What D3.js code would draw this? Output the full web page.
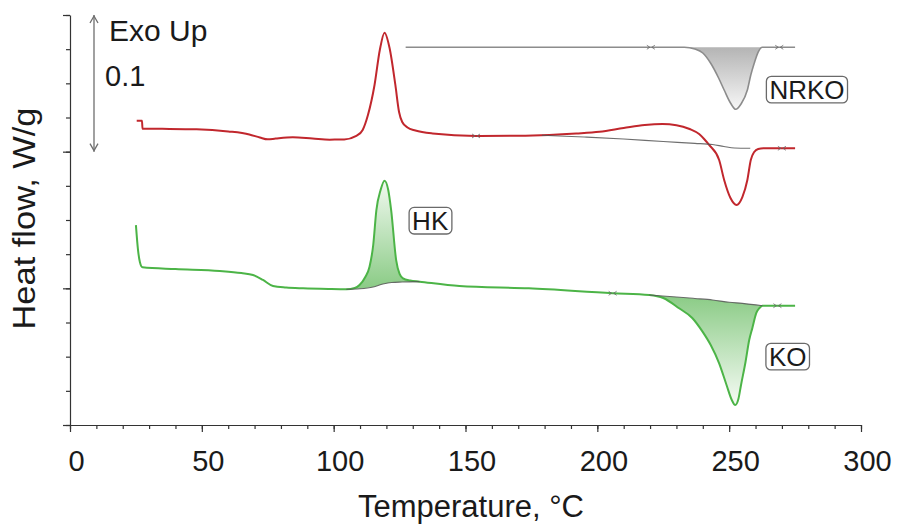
<!DOCTYPE html>
<html>
<head>
<meta charset="utf-8">
<script src="https://cdn.jsdelivr.net/npm/d3@7"></script>
<style>
  html, body { margin: 0; padding: 0; background: #fff; }
  svg { display: block; font-family: "Liberation Sans", Arial, Helvetica, sans-serif; }
</style>
</head>
<body>
<svg id="chart" width="897" height="526"></svg>
<script>
// ---- data: temperature (°C), heat flow (W/g, curves offset vertically) ----
const xMajorTicks = [0, 50, 100, 150, 200, 250, 300];
const xMinorTicks = d3.range(0, 301, 10);
const yMajorTicks = [0, 0.1, 0.2, 0.3];
const yMinorTicks = d3.range(0, 0.3001, 0.025);
const scaleBar = [0.2, 0.3];           // "0.1" W/g scale bar
const scaleBarLabel = "0.1";

// NRKO trace (grey)
const nrkoTrace = [
  [127.3, 0.2764], [200, 0.2764], [233, 0.2764], [237, 0.2751], [240, 0.2722],
  [243, 0.2647], [246, 0.2539], [248.1, 0.2451], [250.5, 0.2356], [252.5, 0.2310],
  [254.5, 0.2349], [256.9, 0.2451], [258.2, 0.2561], [259.5, 0.2647], [261, 0.2729],
  [262.6, 0.2764], [275, 0.2764]
];
const nrkoBaseline = [[233, 0.2764], [262.6, 0.2764]];
const nrkoMarks = [220.3, 269];

// red trace
const redTrace = [
  [25.3, 0.2227], [27.3, 0.2227], [27.5, 0.2168], [35, 0.2167], [48, 0.2164],
  [60, 0.2148], [68, 0.2126], [72, 0.2104], [75, 0.2090], [78, 0.2096],
  [84.5, 0.2105], [92, 0.2096], [98.5, 0.2088], [104, 0.2089], [108.6, 0.2115],
  [111, 0.2159], [113, 0.2268], [115.5, 0.2488], [117.5, 0.2744], [119.3, 0.2871],
  [121.2, 0.2759], [123.4, 0.2488], [124.8, 0.2290], [126, 0.2217], [128, 0.2177],
  [131, 0.2155], [137.5, 0.2133], [154, 0.2115], [170, 0.2116], [181.8, 0.2122],
  [192, 0.2133], [200.8, 0.2146], [210, 0.2173], [218, 0.2195], [224.7, 0.2202],
  [230, 0.2194], [235, 0.2166], [238.6, 0.2129], [240.5, 0.2093], [242.4, 0.2049],
  [246.2, 0.1939], [248.1, 0.1793], [250.5, 0.1661], [252.8, 0.1610], [255, 0.1668],
  [256.9, 0.1793], [258.2, 0.1939], [259.5, 0.1998], [261, 0.2020], [263, 0.2025],
  [275, 0.2025]
];
const redBaseline = [
  [179, 0.2120], [195, 0.2107], [210, 0.2093], [225, 0.2074], [237, 0.2061],
  [243.7, 0.2052], [248, 0.2038], [252, 0.2027], [258, 0.2025]
];
const redMarks = [154, 270];

// green trace (HK exotherm, KO endotherm)
const greenTrace = [
  [25, 0.1463], [25.8, 0.1280], [26.5, 0.1193], [27.5, 0.1154], [40, 0.1141],
  [56.8, 0.1127], [65, 0.1112], [69.4, 0.1098], [73.2, 0.1061], [77, 0.1017],
  [82, 0.1006], [88.4, 0.1000], [98, 0.0995], [104.8, 0.0993], [108, 0.1002],
  [109.8, 0.1024], [112, 0.1083], [113.6, 0.1158], [115, 0.1317], [116.2, 0.1573],
  [117.8, 0.1720], [119.3, 0.1788], [120.7, 0.1720], [121.8, 0.1573], [123.7, 0.1207],
  [125, 0.1105], [126.3, 0.1073], [129, 0.1057], [132.6, 0.1049], [147.7, 0.1017],
  [174, 0.1000], [205.8, 0.0964], [219.7, 0.0951], [225, 0.0929], [231, 0.0854],
  [236, 0.0783], [239.9, 0.0683], [243, 0.0585], [246.2, 0.0451], [249, 0.0293],
  [251, 0.0183], [252.3, 0.0146], [253.5, 0.0190], [254.5, 0.0293], [256.2, 0.0461],
  [257.6, 0.0622], [258.8, 0.0710], [260.3, 0.0820], [261.5, 0.0856], [262.6, 0.0873],
  [275, 0.0873]
];
const hkBaseline = [
  [104.8, 0.0993], [110, 0.0997], [115, 0.1010], [118.7, 0.1032], [122, 0.1043],
  [126, 0.1046], [132.6, 0.1049]
];
const koBaseline = [
  [219.7, 0.0951], [230, 0.0937], [237, 0.0926], [243.7, 0.0915], [250, 0.0898],
  [255, 0.0890], [262.6, 0.0873]
];
const greenMarks = [205.8, 268.3];

// boxed labels: text, temperature, heat flow
const peakLabels = [
  ["NRKO", 279.5, 0.2454],
  ["HK", 136.6, 0.1495],
  ["KO", 272.2, 0.0500]
];

// ---- layout ----
const svg = d3.select("#chart");
const x = d3.scaleLinear().domain([0, 300]).range([70, 861]);
const y = d3.scaleLinear().domain([0, 0.3]).range([425, 15]);

const colors = { red: "#c1272d", green: "#4cb447", grey: "#8c8c8c", base: "#555", axis: "#333" };

const defs = svg.append("defs");
function vGradient(id, yFrom, yTo, c0, c1) {
  const g = defs.append("linearGradient").attr("id", id)
    .attr("gradientUnits", "userSpaceOnUse")
    .attr("x1", 0).attr("x2", 0).attr("y1", y(yFrom)).attr("y2", y(yTo));
  g.append("stop").attr("offset", 0).attr("stop-color", c0);
  g.append("stop").attr("offset", 1).attr("stop-color", c1);
}
vGradient("gradNRKO", 0.2764, 0.2310, "#b4b4b4", "#f7f7f7");
vGradient("gradHK", 0.0995, 0.1788, "#8acb85", "#f1f9f0");
vGradient("gradKO", 0.0951, 0.0146, "#8acb85", "#f6fbf5");

const line = d3.line().x(d => x(d[0])).y(d => y(d[1])).curve(d3.curveMonotoneX);
const straight = d3.line().x(d => x(d[0])).y(d => y(d[1])).curve(d3.curveLinear);

// shaded area between a trace and its baseline
function peakArea(trace, base) {
  const t0 = base[0][0], t1 = base[base.length - 1][0];
  const seg = trace.filter(d => d[0] >= t0 - 1e-6 && d[0] <= t1 + 1e-6);
  const back = base.slice().reverse();
  return line(seg) + "L" + straight(back).slice(1) + "Z";
}

// ---- axes ----
svg.append("g").attr("transform", "translate(70,0)")
  .call(d3.axisLeft(y).tickValues(yMinorTicks).tickSize(4).tickSizeOuter(0).tickFormat(""));
const yAxisMajor = svg.append("g").attr("transform", "translate(70,0)")
  .call(d3.axisLeft(y).tickValues(yMajorTicks).tickSize(7).tickSizeOuter(0).tickFormat(""));
yAxisMajor.select(".domain").remove();

svg.append("g").attr("transform", "translate(0,425)")
  .call(d3.axisBottom(x).tickValues(xMinorTicks).tickSize(4).tickSizeOuter(0).tickFormat(""));
const xAxisMajor = svg.append("g").attr("transform", "translate(0,425)")
  .call(d3.axisBottom(x).tickValues(xMajorTicks).tickSize(7).tickSizeOuter(0).tickFormat(d3.format("d")));
xAxisMajor.select(".domain").remove();
xAxisMajor.selectAll("text")
  .attr("y", 46).attr("dy", 0).attr("dx", 6)
  .attr("fill", "#1a1a1a").style("font-size", "29px")
  .style("font-family", "'Liberation Sans', Arial, sans-serif");

svg.selectAll(".domain, .tick line").attr("stroke", colors.axis).attr("stroke-width", 1.2);

// axis titles
svg.append("text")
  .attr("x", 471).attr("y", 517).attr("text-anchor", "middle")
  .attr("fill", "#1a1a1a").style("font-size", "31px")
  .text("Temperature, °C");
svg.append("text")
  .attr("transform", "translate(35,218.5) rotate(-90)")
  .attr("text-anchor", "middle").attr("fill", "#1a1a1a").style("font-size", "32px")
  .attr("textLength", 222).attr("lengthAdjust", "spacingAndGlyphs")
  .text("Heat flow, W/g");

// ---- scale bar (Exo Up) ----
const barX = 94;
const bar = svg.append("g").attr("stroke", "#6e6e6e").attr("stroke-width", 1.3).attr("fill", "none");
bar.append("line").attr("x1", barX).attr("x2", barX).attr("y1", y(scaleBar[1])).attr("y2", y(scaleBar[0]));
bar.append("path").attr("d", `M${barX - 4},${y(scaleBar[1]) + 8}L${barX},${y(scaleBar[1]) + 1}L${barX + 4},${y(scaleBar[1]) + 8}`);
bar.append("path").attr("d", `M${barX - 4},${y(scaleBar[0]) - 8}L${barX},${y(scaleBar[0]) - 1}L${barX + 4},${y(scaleBar[0]) - 8}`);
svg.append("text").attr("x", 109).attr("y", 41).attr("fill", "#1a1a1a").style("font-size", "30px").text("Exo Up");
svg.append("text").attr("x", 105).attr("y", 86).attr("fill", "#1a1a1a").style("font-size", "29px").text(scaleBarLabel);

// ---- shaded peaks ----
svg.append("path").attr("d", peakArea(nrkoTrace, nrkoBaseline)).attr("fill", "url(#gradNRKO)");
svg.append("path").attr("d", peakArea(greenTrace, hkBaseline)).attr("fill", "url(#gradHK)");
svg.append("path").attr("d", peakArea(greenTrace, koBaseline)).attr("fill", "url(#gradKO)");

// ---- traces ----
svg.append("path").attr("d", line(nrkoTrace)).attr("fill", "none").attr("stroke", colors.grey).attr("stroke-width", 1.6);
svg.append("path").attr("d", line(redTrace)).attr("fill", "none").attr("stroke", colors.red).attr("stroke-width", 2);
svg.append("path").attr("d", line(greenTrace)).attr("fill", "none").attr("stroke", colors.green).attr("stroke-width", 2);

// integration baselines
[redBaseline, hkBaseline, koBaseline].forEach(b => {
  svg.append("path").attr("d", line(b)).attr("fill", "none")
    .attr("stroke", colors.base).attr("stroke-width", 1.1).attr("stroke-opacity", 0.85);
});

// integration limit marks
function valueAt(trace, t) {
  const i = d3.bisector(d => d[0]).left(trace, t);
  if (i <= 0) return trace[0][1];
  if (i >= trace.length) return trace[trace.length - 1][1];
  const a = trace[i - 1], b = trace[i];
  return a[1] + (b[1] - a[1]) * (t - a[0]) / (b[0] - a[0]);
}
function drawMarks(trace, temps) {
  temps.forEach(t => {
    const px = x(t), py = y(valueAt(trace, t));
    svg.append("path")
      .attr("d", `M${px - 4},${py - 2}L${px - 1},${py}L${px - 4},${py + 2}M${px + 4},${py - 2}L${px + 1},${py}L${px + 4},${py + 2}`)
      .attr("fill", "none").attr("stroke", "#666").attr("stroke-width", 0.8);
  });
}
drawMarks(nrkoTrace, nrkoMarks);
drawMarks(redTrace, redMarks);
drawMarks(greenTrace, greenMarks);

// ---- boxed peak labels ----
peakLabels.forEach(([txt, t, v]) => {
  const g = svg.append("g").attr("transform", `translate(${x(t)},${y(v)})`);
  const label = g.append("text").attr("text-anchor", "middle").attr("y", 9)
    .attr("fill", "#1a1a1a").style("font-size", "26px").text(txt);
  const bb = label.node().getBBox();
  g.insert("rect", "text")
    .attr("x", bb.x - 3).attr("y", -13.3).attr("width", bb.width + 6).attr("height", 26.6)
    .attr("rx", 5).attr("fill", "#fff").attr("stroke", "#6a6a6a").attr("stroke-width", 1.3);
});
</script>
</body>
</html>
